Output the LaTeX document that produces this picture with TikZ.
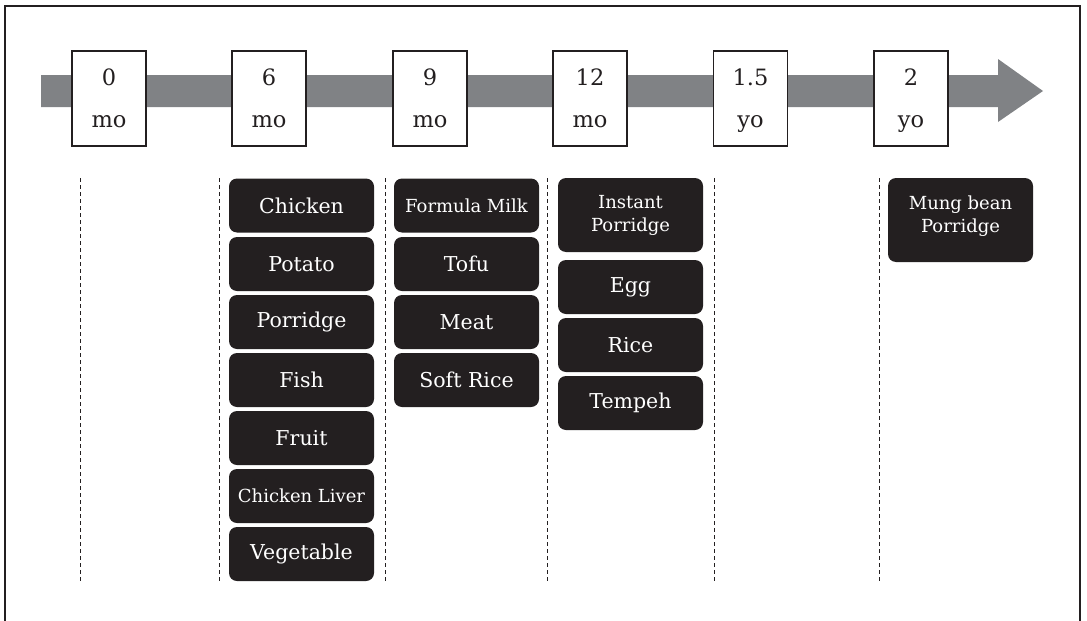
\documentclass[tikz,border=0pt]{standalone}
\usepackage{fontspec}
\setmainfont{DejaVu Serif}
\definecolor{bargray}{RGB}{128,130,133}
\definecolor{ink}{RGB}{35,31,32}
\begin{document}
\begin{tikzpicture}[x=1pt,y=-1pt,
  period/.style={draw=ink, line width=1.1pt, fill=white, minimum width=74pt, minimum height=95pt,
    inner sep=0pt, align=center, text depth=0pt, font=\fontsize{22.5}{42}\selectfont, text=ink},
  food/.style={fill=ink, rounded corners=8pt, minimum width=145pt, minimum height=54pt,
    inner sep=0pt, text=white, align=center, font=\fontsize{20.5}{23}\selectfont},
  smallfood/.style={food, font=\fontsize{18}{23}\selectfont},
  foodtext/.style={text=white, align=center, inner sep=0pt, font=\fontsize{18}{23}\selectfont},
  sep/.style={draw=ink, dash pattern=on 4pt off 3pt, line width=0.9pt}]
\useasboundingbox (0,0) rectangle (1087,621);
\clip (0,0) rectangle (1087,621);
% frame
\draw[ink, line width=1.3pt] (5,6) rectangle (1080,680);
% timeline arrow
\fill[bargray] (41,75) -- (998,75) -- (998,59) -- (1043,91) -- (998,122) -- (998,107) -- (41,107) -- cycle;
% period boxes
\node[period] (p0)  at (109,98.5)   {0\\mo};
\node[period] (p6)  at (269,98.5)   {6\\mo};
\node[period] (p9)  at (430,98.5)   {9\\mo};
\node[period] (p12) at (590,98.5)   {12\\mo};
\node[period] (p18) at (750.5,98.5) {1.5\\yo};
\node[period] (p24) at (911,98.5)   {2\\yo};
% separators
\foreach \i/\x in {1/80, 2/219, 3/385, 4/547, 5/714, 6/879} {
  \coordinate (s\i t) at (\x,178);
  \coordinate (s\i b) at (\x,582);
  \draw[sep] (s\i t) -- (s\i b);
}
% 6 months
\node[food] (chicken)  at (301.5,205.5) {Chicken};
\node[food] (potato)   at (301.5,264)   {Potato};
\node[food] (porridge) at (301.5,322)   {Porridge};
\node[food] (fish)     at (301.5,380)   {Fish};
\node[food] (fruit)    at (301.5,438)   {Fruit};
\node[smallfood] (liver) at (301.5,496) {Chicken Liver};
\node[food] (veg)      at (301.5,554)   {Vegetable};
% 9 months
\node[smallfood] (milk) at (466.5,205.5) {Formula Milk};
\node[food] (tofu)     at (466.5,264)   {Tofu};
\node[food] (meat)     at (466.5,322)   {Meat};
\node[food] (softrice) at (466.5,380)   {Soft Rice};
% 12 months
\node[smallfood, minimum height=74pt] (instant) at (630.5,215) {Instant\\Porridge};
\node[food] (egg)    at (630.5,287) {Egg};
\node[food] (rice)   at (630.5,345) {Rice};
\node[food] (tempeh) at (630.5,403) {Tempeh};
% 2 years
\node[food, minimum height=84pt] (mung) at (960.5,220) {};
\node[foodtext] (mungtext) at (960.5,216.5) {Mung bean\\Porridge};
\end{tikzpicture}
\end{document}
